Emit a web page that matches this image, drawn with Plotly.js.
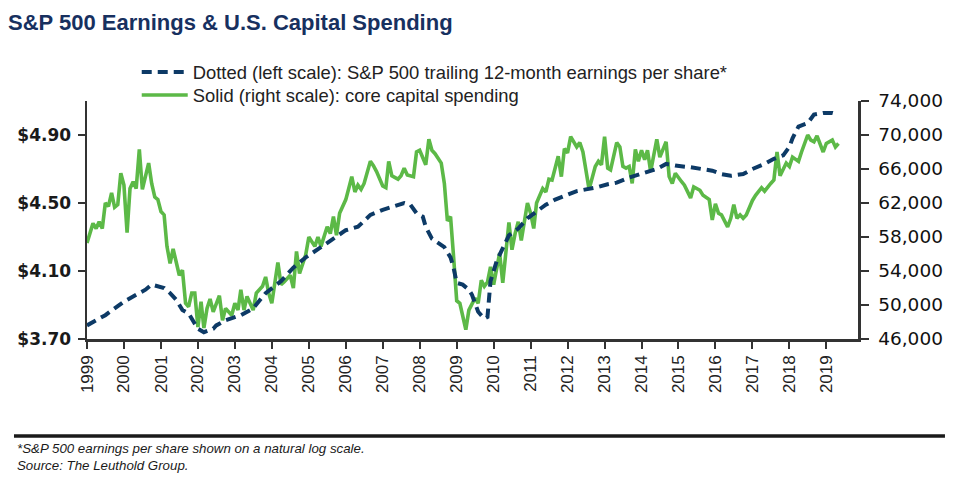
<!DOCTYPE html>
<html>
<head>
<meta charset="utf-8">
<script src="https://cdn.plot.ly/plotly-3.0.1.min.js"></script>
<style>
  html, body { margin: 0; padding: 0; background: #ffffff; }
  #chart { width: 958px; height: 477px; }
</style>
</head>
<body>
<div id="chart"></div>
<script>
// ---- Data ----
// Core capital spending (right scale), monthly readings
const capexDates = [
  '1999-01','1999-03','1999-04','1999-05','1999-06','1999-07','1999-08','1999-09','1999-10','1999-11','1999-12',
  '2000-01','2000-02','2000-03','2000-04','2000-05','2000-06','2000-07','2000-09','2000-10','2000-11','2000-12',
  '2001-01','2001-02','2001-03','2001-04','2001-05','2001-06','2001-07','2001-08','2001-09','2001-10','2001-11','2001-12',
  '2002-01','2002-02','2002-03','2002-04','2002-05','2002-06','2002-08','2002-09','2002-10','2002-12',
  '2003-01','2003-02','2003-03','2003-04','2003-05','2003-07','2003-08','2003-10','2003-11','2003-12',
  '2004-01','2004-03','2004-04','2004-05','2004-07','2004-08','2004-09','2004-10','2004-12',
  '2005-01','2005-03','2005-04','2005-05','2005-07','2005-08','2005-09','2005-10','2005-11',
  '2006-01','2006-02','2006-03','2006-04','2006-05','2006-06','2006-07','2006-09','2006-10','2006-11',
  '2007-01','2007-02','2007-03','2007-04','2007-06','2007-07','2007-08','2007-09','2007-11','2007-12',
  '2008-01','2008-03','2008-04','2008-05','2008-06','2008-08','2008-09','2008-10','2008-11','2008-12',
  '2009-01','2009-02','2009-04','2009-05','2009-07','2009-08','2009-09','2009-10','2009-11','2009-12',
  '2010-01','2010-03','2010-04','2010-06','2010-07','2010-08','2010-09','2010-10','2010-12',
  '2011-01','2011-02','2011-03','2011-05','2011-06','2011-07','2011-08','2011-09','2011-10','2011-11','2011-12',
  '2012-01','2012-02','2012-04','2012-05','2012-06','2012-08','2012-10','2012-11','2012-12',
  '2013-01','2013-02','2013-03','2013-05','2013-06','2013-07','2013-08','2013-09','2013-10','2013-11','2013-12',
  '2014-01','2014-02','2014-03','2014-04','2014-06','2014-07','2014-09','2014-10','2014-11','2014-12',
  '2015-02','2015-03','2015-05','2015-06','2015-08','2015-09','2015-11','2015-12',
  '2016-01','2016-02','2016-03','2016-05','2016-06','2016-07','2016-08','2016-09','2016-10','2016-11',
  '2017-01','2017-02','2017-04','2017-05','2017-07','2017-08','2017-09','2017-10','2017-12',
  '2018-01','2018-02','2018-04','2018-05','2018-06','2018-07','2018-08','2018-09','2018-10','2018-12',
  '2019-01','2019-03','2019-04','2019-05'
];
const capexValues = [
  57300,59600,59000,59800,59000,62000,61600,63200,61500,61800,65500,
  64100,58500,63700,64500,63700,68300,63600,66700,64300,62700,62400,
  61000,60600,56900,54900,56600,54900,53500,54100,50200,49800,51400,51400,
  47400,50400,47300,49600,50700,49200,51100,48200,49600,48800,
  50200,49400,51800,49400,51000,49400,51400,52200,53300,51400,
  50200,55000,52400,52700,53500,52000,56300,53700,55900,
  58000,56900,58000,56900,59200,58400,60400,58200,60800,
  62400,63800,65100,63300,64100,63600,64300,66900,66400,65700,
  64000,63800,66900,65200,64800,65200,66100,65300,65100,68000,
  68200,66500,69500,68200,67800,66700,64300,59900,60400,55700,
  50500,50200,47100,49400,50800,50200,52900,52200,52700,54500,
  52400,56100,52600,59700,56500,58400,59800,57600,62000,
  60800,59000,62000,63700,63300,64800,64700,66300,67500,65100,68400,
  67900,69800,68600,69100,68000,63600,66300,66900,66500,
  69800,66100,65900,69100,68600,66300,66100,66300,64300,68300,66900,
  68200,67100,68200,65700,69500,67400,69200,65100,64300,65500,
  64500,64100,62600,63900,63500,62900,62400,60000,
  61900,60800,60600,59200,60200,61800,60200,60600,60200,60600,
  62300,62900,63800,63400,64300,64700,68000,65200,66700,
  66300,67400,66900,68000,69000,70000,69400,69200,69900,68000,
  69000,69400,68600,69000
];

// S&P 500 trailing 12-month EPS, natural log (left scale)
const epsDates = [
  '1999-01','1999-04','1999-07','1999-10','2000-01','2000-05','2000-08','2000-10','2000-12',
  '2001-02','2001-04','2001-06','2001-08','2001-10','2001-12','2002-01','2002-03','2002-06','2002-07','2002-10',
  '2003-03','2003-07','2003-11','2004-04','2004-08','2004-12','2005-05','2005-09','2006-01','2006-05','2006-09',
  '2007-01','2007-06','2007-08','2007-10','2007-12','2008-02','2008-03','2008-05','2008-09','2008-11','2008-12',
  '2009-01','2009-03','2009-05','2009-06','2009-08','2009-09','2009-10','2009-11','2009-12','2010-02','2010-04',
  '2010-06','2010-09','2010-12','2011-03','2011-06','2011-09','2012-01','2012-04','2012-07','2012-10',
  '2013-02','2013-05','2013-09','2014-02','2014-06','2014-09','2014-12','2015-05','2015-09','2015-12',
  '2016-03','2016-06','2016-10','2017-01','2017-05','2017-08','2017-11','2018-01','2018-02','2018-04',
  '2018-07','2018-09','2018-12','2019-03','2019-05'
];
const epsValues = [
  3.78,3.81,3.84,3.88,3.92,3.96,3.99,4.02,4.01,
  4.00,3.97,3.93,3.87,3.85,3.79,3.76,3.74,3.76,3.78,3.81,
  3.84,3.88,3.97,4.04,4.12,4.18,4.24,4.29,4.34,4.36,4.43,
  4.46,4.49,4.50,4.49,4.44,4.42,4.36,4.29,4.24,4.18,4.12,
  4.03,4.02,3.99,3.96,3.86,3.84,3.82,3.83,4.04,4.16,4.24,
  4.31,4.35,4.41,4.45,4.49,4.52,4.55,4.57,4.58,4.59,
  4.61,4.62,4.65,4.68,4.70,4.73,4.72,4.71,4.70,4.69,
  4.67,4.66,4.67,4.70,4.73,4.76,4.78,4.83,4.88,4.95,
  4.97,5.02,5.03,5.03,5.02
];

const yearTickVals = ['1999','2000','2001','2002','2003','2004','2005','2006','2007','2008','2009',
  '2010','2011','2012','2013','2014','2015','2016','2017','2018','2019'];
const leftTickVals = [3.70, 4.10, 4.50, 4.90];
const leftTickText = ['$3.70', '$4.10', '$4.50', '$4.90'];
const rightTickVals = [46000, 50000, 54000, 58000, 62000, 66000, 70000, 74000];
const rightTickText = ['46,000', '50,000', '54,000', '58,000', '62,000', '66,000', '70,000', '74,000'];

const seriesNames = [
  'Dotted (left scale): S&P 500 trailing 12-month earnings per share*',
  'Solid (right scale): core capital spending'
];

// ---- Styles ----
const NAVY = '#0d3a66';
const GREEN = '#5cb947';
const AXIS = '#333333';
const xRange = ['1999-01-01', '2019-11-10'];
const rightRange = [46000, 74000];
const yearDates = yearTickVals.map(y => y + '-01-01');
const legendFont = { family: 'Liberation Sans, Arial, sans-serif', size: 18.4, color: '#222222' };

const traces = [
  {
    x: epsDates, y: epsValues, xaxis: 'x', yaxis: 'y2',
    type: 'scatter', mode: 'lines', name: seriesNames[0], legend: 'legend',
    line: { color: NAVY, width: 4, dash: '10px,6px' },
    hoverinfo: 'skip'
  },
  {
    x: capexDates, y: capexValues, xaxis: 'x', yaxis: 'y',
    type: 'scatter', mode: 'lines', name: seriesNames[1], legend: 'legend2',
    line: { color: GREEN, width: 3.6 },
    hoverinfo: 'skip'
  }
];

const layout = {
  width: 958, height: 477,
  paper_bgcolor: '#ffffff', plot_bgcolor: 'rgba(0,0,0,0)',
  margin: { l: 87, r: 100, t: 101, b: 138, autoexpand: false },
  showlegend: true,
  title: {
    text: '<b>S&P 500 Earnings & U.S. Capital Spending</b>',
    xref: 'container', yref: 'container',
    x: 8 / 958, xanchor: 'left', y: 1 - 22 / 477, yanchor: 'middle',
    font: { family: 'Liberation Sans, Arial, sans-serif', size: 22, color: '#17305f' }
  },
  legend: {
    x: 0.0645, xanchor: 'left', y: (339 - 72) / 238, yanchor: 'middle',
    bgcolor: 'rgba(0,0,0,0)', borderwidth: 0, font: legendFont, itemwidth: 46
  },
  legend2: {
    x: 0.0645, xanchor: 'left', y: (339 - 95) / 238, yanchor: 'middle',
    bgcolor: 'rgba(0,0,0,0)', borderwidth: 0, font: legendFont, itemwidth: 46
  },
  xaxis: {
    type: 'date', range: xRange, anchor: 'y',
    tickvals: yearDates, ticktext: yearTickVals, tickangle: -90,
    ticks: 'outside', ticklen: 7, tickwidth: 2, tickcolor: AXIS,
    showline: true, linecolor: AXIS, linewidth: 2.5,
    showgrid: false, zeroline: false,
    tickfont: { family: 'Liberation Sans, Arial, sans-serif', size: 17, color: '#222222' },
    fixedrange: true
  },
  xaxis2: {
    type: 'date', range: xRange, overlaying: 'x', anchor: 'y',
    tickvals: yearDates, ticks: 'inside', ticklen: 7, tickwidth: 2, tickcolor: AXIS,
    showticklabels: false, showline: false, showgrid: false, zeroline: false, fixedrange: true
  },
  yaxis: {
    side: 'right', anchor: 'x', range: rightRange,
    tickvals: rightTickVals, ticktext: rightTickText,
    ticks: 'outside', ticklen: 8, tickwidth: 2, tickcolor: AXIS,
    showline: true, linecolor: AXIS, linewidth: 2.5,
    showgrid: false, zeroline: false, ticklabelstandoff: 6,
    tickfont: { family: 'DejaVu Sans, Verdana, sans-serif', size: 18.5, color: '#111111' },
    fixedrange: true
  },
  yaxis3: {
    side: 'right', anchor: 'x', overlaying: 'y', range: rightRange,
    tickvals: rightTickVals, ticks: 'inside', ticklen: 7, tickwidth: 2, tickcolor: AXIS,
    showticklabels: false, showline: false, showgrid: false, zeroline: false, fixedrange: true
  },
  yaxis2: {
    side: 'left', anchor: 'x', overlaying: 'y', range: [3.70, 5.10],
    tickvals: leftTickVals, ticktext: leftTickText,
    ticks: 'outside', ticklen: 7, tickwidth: 2, tickcolor: AXIS,
    showline: true, linecolor: AXIS, linewidth: 2.5,
    showgrid: false, zeroline: false, ticklabelstandoff: 3,
    tickfont: { family: 'DejaVu Sans, Verdana, sans-serif', size: 17, color: '#1a1a1a', weight: 'bold' },
    fixedrange: true
  },
  shapes: [
    { type: 'line', xref: 'paper', yref: 'paper', x0: -0.0947, x1: 1.1128, y0: -0.4075, y1: -0.4075,
      line: { color: '#1a1a1a', width: 3.5 } }
  ],
  annotations: [
    { text: '*S&P 500 earnings per share shown on a natural log scale.',
      xref: 'paper', yref: 'paper', x: -0.0934, y: -0.4606, xanchor: 'left', yanchor: 'middle',
      showarrow: false,
      font: { family: 'Liberation Sans, Arial, sans-serif', size: 13.3, color: '#1a1a1a', style: 'italic' } },
    { text: 'Source: The Leuthold Group.',
      xref: 'paper', yref: 'paper', x: -0.0934, y: -0.531, xanchor: 'left', yanchor: 'middle',
      showarrow: false,
      font: { family: 'Liberation Sans, Arial, sans-serif', size: 13.3, color: '#1a1a1a', style: 'italic' } }
  ]
};

Plotly.newPlot('chart', traces, layout, { displayModeBar: false, staticPlot: true });
</script>
</body>
</html>
